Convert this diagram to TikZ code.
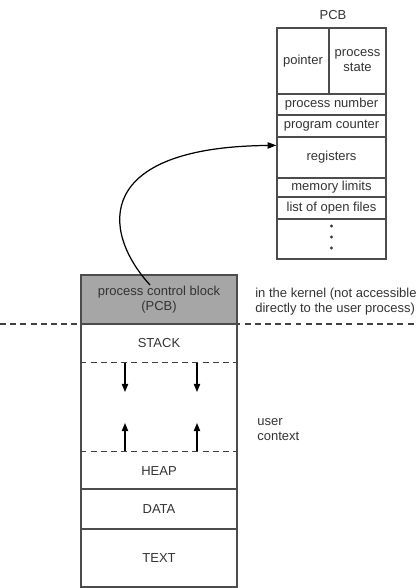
\documentclass[tikz,border=0pt]{standalone}
\usepackage{fontspec}
\setmainfont{Liberation Sans}
\usetikzlibrary{arrows.meta, positioning, calc}

\begin{document}
\begin{tikzpicture}[
    x=0.02cm, y=-0.02cm, % 1 unit = 1 px of the layout, y going down
    every node/.style={font=\fontsize{7.4}{8.6}\selectfont, text=black!80},
    cell/.style={draw=black!70, line width=0.7pt, inner sep=0pt, align=center},
    box/.style 2 args={minimum width=#1*0.02cm, minimum height=#2*0.02cm},
    sep/.style={black!75, line width=0.7pt, dash pattern=on 3.4pt off 2.4pt},
    growarrow/.style={black, line width=0.7pt, -{Triangle[length=4.6pt, width=3.6pt]}},
    link/.style={black, line width=0.7pt, -{Triangle[length=5pt, width=3.6pt]}},
    note/.style={anchor=west, align=left, inner sep=0pt}
]
    \useasboundingbox (0,0) rectangle (417,588);

    % 1. kernel / user boundary
    \draw[sep] (0,324) -- (417,324);

    % 2. PCB layout
    \node (pcbtitle) at (333,15) {PCB};
    \node[cell, box={52}{66}] (ptr) at (303,61) {pointer};
    \node[cell, box={57}{66}] (pstate) at (357.5,61) {process\\state};
    \foreach \nm/\cy/\h/\txt in {pnum/104.5/21/process number,
                                 pc/126/22/program counter,
                                 regs/157.5/41/registers,
                                 mem/187.5/19/memory limits,
                                 files/208/22/list of open files,
                                 more/239/40/} {
        \node[cell, box={109}{\h}] (\nm) at (331.5,\cy) {\txt};
    }
    % vertical dots
    \foreach \y in {226,237,248} {
        \fill[black!80] (331.5,\y) circle (0.9pt);
    }

    % 3. process memory
    \node[cell, fill=black!35, box={156}{49}] (pcbblk) at (159,299.5) {process control block\\(PCB)};
    \node[cell, box={156}{165}] (userarea) at (159,406.5) {};
    \node[cell, box={156}{40}] (data) at (159,509) {DATA};
    \node[cell, box={156}{58}] (textseg) at (159,558) {TEXT};
    \node (stack) at (159,343) {STACK};
    \node (heap) at (159,471) {HEAP};

    % stack / heap limits
    \draw[sep] ($(userarea.north west)+(0,39)$) -- ($(userarea.north east)+(0,39)$);
    \draw[sep] ($(userarea.south west)+(0,-38)$) -- ($(userarea.south east)+(0,-38)$);
    \foreach \x in {125,197} {
        \draw[growarrow] (\x,363) -- (\x,392); % stack grows down
        \draw[growarrow] (\x,451) -- (\x,423); % heap grows up
    }

    % 4. link from the PCB block to the PCB layout
    \coordinate (cstart) at (150,285);
    \coordinate (cend) at ($(regs.north west)+(0,9)$);
    \draw[link] (cstart) .. controls (100,230) and (95,147) .. (cend);

    % 5. side notes
    \node[note] (kernel) at (255,301.5) {in the kernel (not accessible\\directly to the user process)};
    \node[note] (userctx) at (257,430) {user\\context};

\end{tikzpicture}
\end{document}
